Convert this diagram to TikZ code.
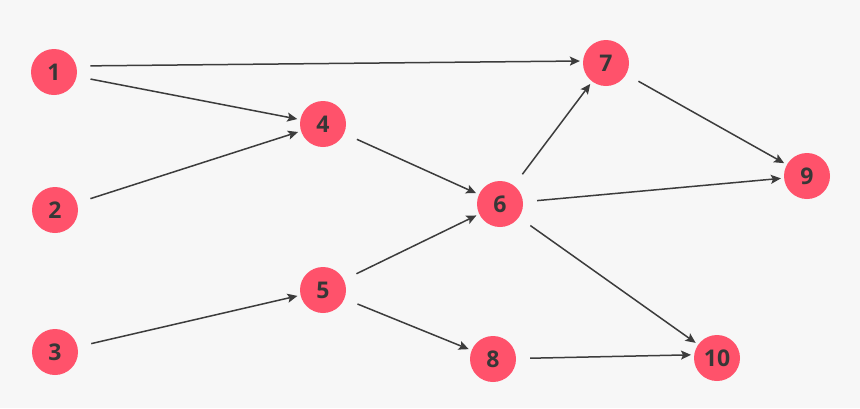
\documentclass[tikz,border=0pt]{standalone}
\usepackage{fontspec}
\setmainfont{Open Sans}
\usetikzlibrary{arrows.meta}
\definecolor{nodepink}{RGB}{255, 82, 107}
\definecolor{edgegray}{RGB}{60, 60, 60}
\definecolor{labelgray}{RGB}{55, 55, 55}
\definecolor{bggray}{RGB}{247, 247, 247}

\begin{document}
\begin{tikzpicture}[
    x=1pt, y=-1pt,
    font=\bfseries\fontsize{23}{23}\selectfont,
    dot/.style={circle, fill=nodepink, text=labelgray, minimum size=46pt, inner sep=0pt},
    edge/.style={-{Stealth[length=10pt, width=9pt, inset=2pt]}, edgegray, line width=1.5pt,
                 shorten <=14pt, shorten >=3pt}
]

    % --- Background ---
    \fill[bggray] (0, 0) rectangle (860, 408);
    \useasboundingbox (0, 0) rectangle (860, 408);

    % --- Nodes ---
    % Left column
    \node[dot] (n1)  at (54, 72)   {1};
    \node[dot] (n2)  at (55, 210)  {2};
    \node[dot] (n3)  at (55, 352)  {3};

    % Middle
    \node[dot] (n4)  at (323, 124) {4};
    \node[dot] (n5)  at (323, 290) {5};
    \node[dot] (n6)  at (500, 204) {6};
    \node[dot] (n8)  at (493, 359) {8};

    % Right
    \node[dot] (n7)  at (606, 63)  {7};
    \node[dot] (n9)  at (807, 176) {9};
    \node[dot] (n10) at (717, 358) {10};

    % --- Edges ---
    \draw[edge] (n1.15) -- (n7.175);
    \draw[edge] (n1) -- (n4);
    \draw[edge] (n2) -- (n4);
    \draw[edge] (n3) -- (n5);

    \draw[edge] (n4) -- (n6);
    \draw[edge] (n5) -- (n6);
    \draw[edge] (n5) -- (n8);

    \draw[edge] (n6) -- (n7);
    \draw[edge] (n6) -- (n9);
    \draw[edge] (n6) -- (n10);
    \draw[edge] (n7) -- (n9);
    \draw[edge] (n8) -- (n10.172);

\end{tikzpicture}
\end{document}
